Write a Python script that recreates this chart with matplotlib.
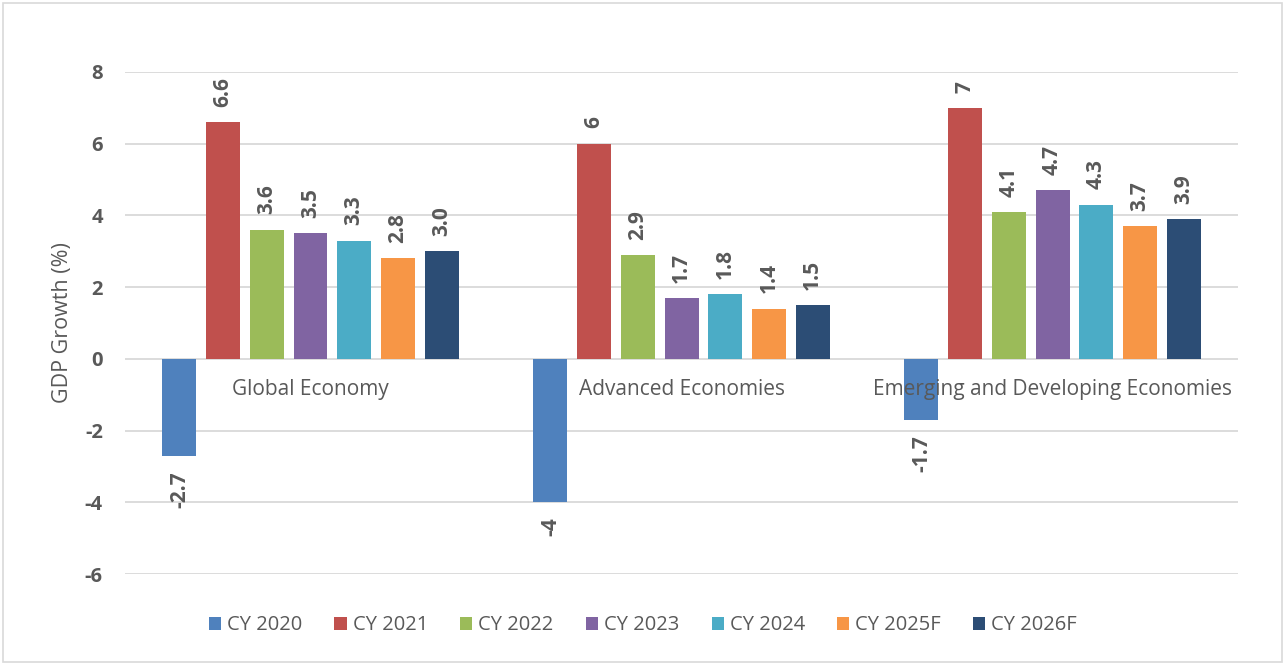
import matplotlib
matplotlib.use("Agg")
import matplotlib.pyplot as plt
import matplotlib.transforms as mtransforms
import numpy as np
from matplotlib.patches import Rectangle

plt.rcParams['font.family'] = ['Open Sans', 'DejaVu Sans']

categories = ["Global Economy", "Advanced Economies", "Emerging and Developing Economies"]
series = ["CY 2020", "CY 2021", "CY 2022", "CY 2023", "CY 2024", "CY 2025F", "CY 2026F"]
values = [
    [-2.7, -4.0, -1.7],
    [6.6, 6.0, 7.0],
    [3.6, 2.9, 4.1],
    [3.5, 1.7, 4.7],
    [3.3, 1.8, 4.3],
    [2.8, 1.4, 3.7],
    [3.0, 1.5, 3.9],
]
value_labels = [
    ["-2.7", "-4", "-1.7"],
    ["6.6", "6", "7"],
    ["3.6", "2.9", "4.1"],
    ["3.5", "1.7", "4.7"],
    ["3.3", "1.8", "4.3"],
    ["2.8", "1.4", "3.7"],
    ["3.0", "1.5", "3.9"],
]
colors = ["#4F81BD", "#C0504D", "#9BBB59", "#8064A2", "#4BACC6", "#F79646", "#2C4D75"]
yticks = [-6, -4, -2, 0, 2, 4, 6, 8]

fig = plt.figure(figsize=(12.86, 6.64), dpi=100)
ax = fig.add_axes([0.0972, 0.1355, 0.8655, 0.7561])

x = np.arange(len(categories))
slot = 0.1178
width = 0.0916
n = len(series)
txt_color = "#595959"
for i, (name, vals, labs, c) in enumerate(zip(series, values, value_labels, colors)):
    xs = x + (i - (n - 1) / 2) * slot
    ax.bar(xs, vals, width=width, color=c, label=name, zorder=3)
    for xi, v, lab in zip(xs, vals, labs):
        if v >= 0:
            ax.annotate(lab, (xi, v), xytext=(0, 11), textcoords="offset points",
                        rotation=90, ha="center", va="bottom", fontsize=15,
                        fontweight="bold", color=txt_color)
        else:
            ax.annotate(lab, (xi, v), xytext=(0, -11), textcoords="offset points",
                        rotation=90, ha="center", va="top", fontsize=15,
                        fontweight="bold", color=txt_color)

ax.set_xlim(-0.5, 2.5)
ax.set_ylim(-6, 8)
ax.set_yticks(yticks)
ax.set_yticklabels([str(t) for t in yticks], fontsize=14.5, fontweight="bold", color=txt_color)
ax.tick_params(axis="y", length=0, pad=16)
ax.grid(axis="y", color="#D9D9D9", linewidth=1.3, zorder=0)
for s in ["top", "right", "left", "bottom"]:
    ax.spines[s].set_visible(False)
ax.set_xticks([])

trans = mtransforms.offset_copy(ax.transData, fig=fig, x=0, y=-31, units="dots")
for xi, cat in zip(x, categories):
    ax.text(xi, 0, cat, transform=trans, ha="center", va="center",
            fontsize=15, color=txt_color, zorder=5)

ax.set_ylabel("GDP Growth (%)", fontsize=15.5, color=txt_color)
ax.yaxis.set_label_coords(-0.0467, 0.5)

leg = fig.legend(loc="center", bbox_to_anchor=(0.5, 0.058), ncol=7, frameon=False,
                 fontsize=14.5, handlelength=0.6, handleheight=0.6, handletextpad=0.3,
                 columnspacing=1.6)
for t in leg.get_texts():
    t.set_color(txt_color)

fig.patches.append(Rectangle((0.002, 0.003), 0.995, 0.993, transform=fig.transFigure,
                             fill=False, edgecolor="#D9D9D9", linewidth=1.2))

fig.savefig("out.png", dpi=100, facecolor="white")
